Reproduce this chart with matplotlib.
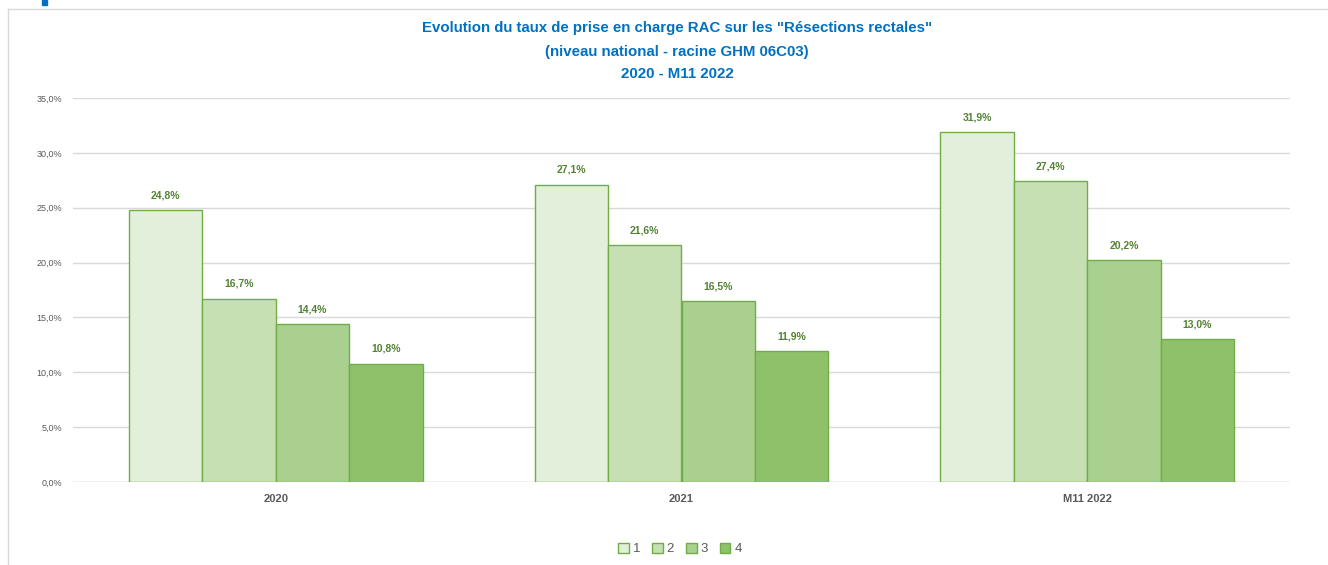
import matplotlib
matplotlib.use("Agg")
import matplotlib.pyplot as plt
from matplotlib.patches import Rectangle
from matplotlib.lines import Line2D
import numpy as np

categories = ["2020", "2021", "M11 2022"]
series_names = ["1", "2", "3", "4"]
values = {
    "1": [24.8, 27.1, 31.9],
    "2": [16.7, 21.6, 27.4],
    "3": [14.4, 16.5, 20.2],
    "4": [10.8, 11.9, 13.0],
}
yticks = [0, 5, 10, 15, 20, 25, 30, 35]
title_lines = ['Evolution du taux de prise en charge RAC sur les "Résections rectales"',
               '(niveau national - racine GHM 06C03)',
               '2020 - M11 2022']

fills = ["#E2EFDA", "#C6E0B4", "#A9D08E", "#8FC16A"]
edge = "#70AD47"
label_col = "#548235"

W, H = 1328, 565
fig = plt.figure(figsize=(W/100, H/100), dpi=100)
fig.patch.set_facecolor("white")

def fx(px): return px / W
def fy(py): return 1 - py / H

ax = fig.add_axes([fx(73), fy(482), fx(1290) - fx(73), fy(98) - fy(482)])
x = np.arange(len(categories))
bw = 0.181
for i, s in enumerate(series_names):
    pos = x + (i - 1.5) * bw
    bars = ax.bar(pos, values[s], width=bw, color=fills[i], edgecolor=edge, linewidth=1, zorder=3)
    for b, v in zip(bars, values[s]):
        ax.text(b.get_x() + b.get_width()/2, v + 0.9, f"{v:.1f}%".replace(".", ","),
                ha="center", va="bottom", fontsize=7.5, fontweight="bold", color=label_col,
                family="Liberation Sans")

ax.set_xlim(-0.5, 2.5)
ax.set_ylim(0, 35)
ax.set_yticks(yticks)
ax.set_yticklabels([f"{t:.1f}%".replace(".", ",") for t in yticks], fontsize=6.5,
                   color="#595959", family="Liberation Sans")
ax.set_xticks(x)
ax.set_xticklabels(categories, fontsize=8, fontweight="bold", color="#595959", family="Liberation Sans")
ax.tick_params(axis="both", length=0)
ax.tick_params(axis="y", pad=8)
ax.tick_params(axis="x", pad=9)
ax.grid(axis="y", color="#D9D9D9", linewidth=1, zorder=0)
for sp in ax.spines.values():
    sp.set_visible(False)
ax.axhline(0, color="#D9D9D9", linewidth=1, zorder=2)

# Title
for ty, line in zip([28, 52, 74], title_lines):
    fig.text(fx(677), fy(ty), line, ha="center", va="center", fontsize=10.8, fontweight="bold",
             color="#0070C0", family="Liberation Sans")

# Frame and blue marker
fig.add_artist(Line2D([fx(8), fx(8)], [fy(9), 0], color="#D9D9D9", linewidth=1))
fig.add_artist(Line2D([fx(8), 1], [fy(9), fy(9)], color="#D9D9D9", linewidth=1))
fig.add_artist(Rectangle((fx(42), fy(5)), fx(5), fy(0) - fy(5), color="#0070C0", transform=fig.transFigure))

# Legend
handles = [Rectangle((0, 0), 1, 1, facecolor=fills[i], edgecolor=edge, linewidth=1) for i in range(4)]
leg = fig.legend(handles, series_names, loc="center", bbox_to_anchor=(fx(680), fy(549)), ncol=4,
                 frameon=False, handlelength=0.8, handleheight=0.8, handletextpad=0.3,
                 columnspacing=0.9, labelcolor="#595959", prop={"family": "Liberation Sans", "size": 9.5})

fig.savefig("out.png", dpi=100, facecolor="white")
